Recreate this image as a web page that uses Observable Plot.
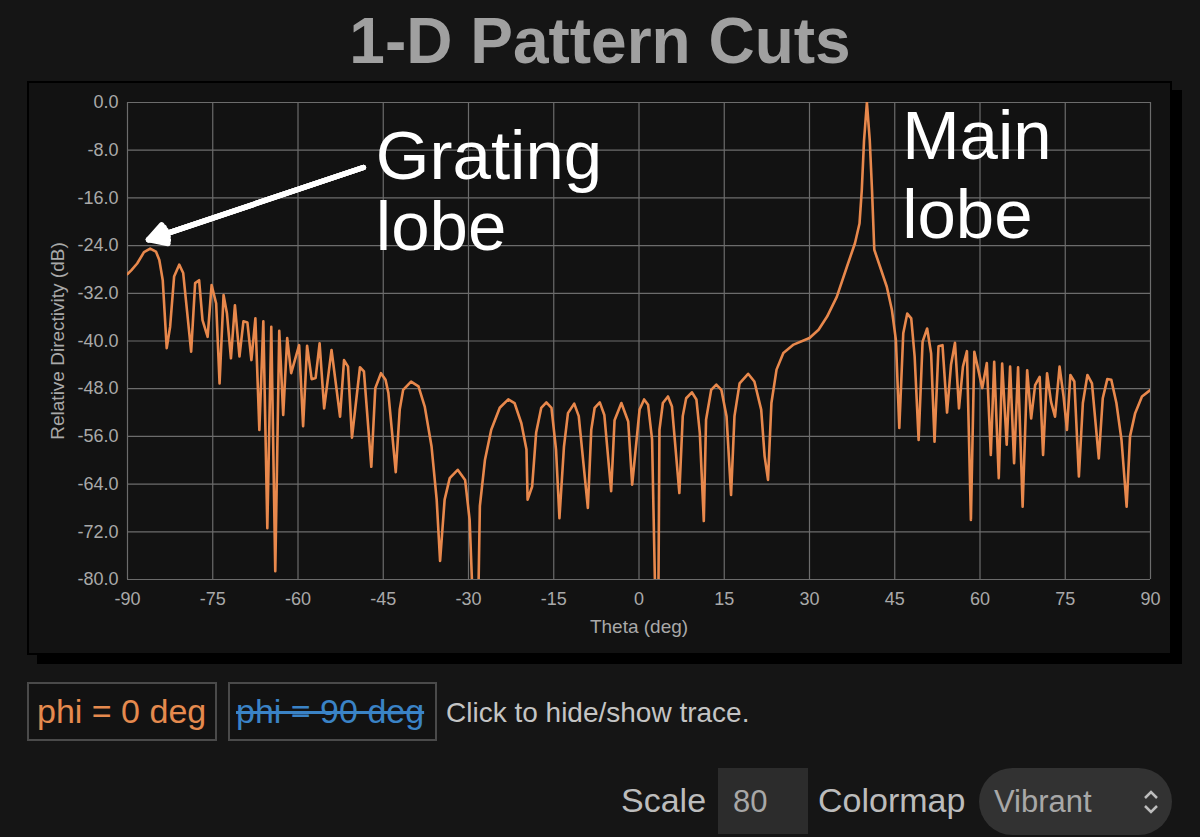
<!DOCTYPE html>
<html>
<head>
<meta charset="utf-8">
<script src="https://cdn.jsdelivr.net/npm/d3@7"></script>
<script src="https://cdn.jsdelivr.net/npm/@observablehq/plot@0.6"></script>
<style>
  html, body { margin: 0; padding: 0; background: #151515; width: 1200px; height: 837px; overflow: hidden;
    font-family: "Liberation Sans", Arial, Helvetica, sans-serif; }
  .abs { position: absolute; line-height: 1; white-space: nowrap; }
  #title { left: 0; width: 1200px; top: 9px; text-align: center; font-weight: bold; font-size: 64px; color: #a0a0a0; }
  #panel { position: absolute; left: 27px; top: 81px; width: 1141px; height: 570px; background: #121212;
    border: 2px solid #000; box-shadow: 10px 9px 0 #000; }
  #chart { position: absolute; left: 27px; top: 81px; }
  .legbox { position: absolute; top: 682px; height: 55px; border: 2px solid #4a4a4a; background: #121212; }
  .ctl { color: #bcbcbc; font-size: 34px; }
  #scaleBox { position: absolute; left: 718px; top: 768px; width: 90px; height: 66px; background: #2c2c2c; }
  #cmapBox { position: absolute; left: 979px; top: 768px; width: 193px; height: 67px; background: #323232; border-radius: 34px; }
</style>
</head>
<body>
<div id="title" class="abs">1-D Pattern Cuts</div>
<div id="panel"></div>
<div id="chart"></div>

<div class="legbox" style="left:27px;width:186px;"></div>
<div class="abs" style="left:37px;top:694px;font-size:34px;color:#e58a4e;">phi = 0 deg</div>
<div class="legbox" style="left:228px;width:205px;"></div>
<div class="abs" style="left:236px;top:694px;font-size:34px;color:#3a83c6;text-decoration:line-through;">phi = 90 deg</div>
<div class="abs" style="left:446px;top:699px;font-size:28px;color:#c4c4c4;">Click to hide/show trace.</div>

<div class="abs ctl" style="left:621px;top:783px;">Scale</div>
<div id="scaleBox"></div>
<div class="abs" style="left:733px;top:786px;font-size:31px;color:#a8a8a8;">80</div>
<div class="abs ctl" style="left:818px;top:783px;">Colormap</div>
<div id="cmapBox"></div>
<div class="abs" style="left:994px;top:786px;font-size:31px;color:#a8a8a8;">Vibrant</div>
<svg class="abs" style="left:1142px;top:787px;" width="18" height="30" viewBox="0 0 18 30">
  <polyline points="3,11 9,5 15,11" fill="none" stroke="#bdbdbd" stroke-width="2.5"/>
  <polyline points="3,19 9,25 15,19" fill="none" stroke="#bdbdbd" stroke-width="2.5"/>
</svg>

<script>
// ---- data (phi = 0 deg cut) ----
const thetaDeg = [
  -90.0, -89.3, -88.3, -87.1, -86.0, -85.0, -84.4, -83.8, -83.1, -82.5,
  -81.8, -80.9, -80.2, -78.8, -78.1, -77.4, -76.8, -75.9, -75.2, -74.4,
  -73.8, -73.1, -72.5, -71.8, -71.1, -70.3, -69.6, -68.9, -68.2, -67.5,
  -66.8, -66.1, -65.4, -64.7, -64.0, -63.3, -62.6, -61.9, -61.2, -59.8,
  -59.1, -58.4, -57.6, -56.9, -56.2, -55.4, -54.1, -52.6, -51.9, -51.2,
  -50.5, -49.1, -48.4, -47.1, -46.4, -45.4, -44.6, -44.1, -42.8, -42.1,
  -41.5, -40.1, -38.8, -37.7, -36.5, -35.6, -35.0, -34.2, -33.3, -31.9,
  -30.6, -29.8, -29.2, -28.3, -28.0, -27.1, -26.0, -24.5, -23.0, -21.9,
  -20.7, -19.8, -19.6, -18.8, -18.1, -17.2, -16.3, -15.4, -14.6, -14.0,
  -13.2, -12.5, -11.4, -10.6, -9.0, -8.4, -7.8, -6.9, -6.1, -4.9,
  -4.3, -3.1, -1.9, -1.2, 0.1, 0.9, 1.6, 2.3, 2.9, 3.4,
  3.6, 4.2, 5.1, 5.8, 7.1, 7.7, 8.3, 9.3, 10.1, 10.7,
  11.4, 11.8, 12.7, 13.6, 14.5, 15.4, 16.2, 16.8, 17.7, 19.2,
  20.3, 21.5, 22.1, 22.7, 23.3, 24.2, 25.4, 27.2, 30.0, 31.6,
  33.1, 34.8, 36.6, 38.0, 38.8, 39.2, 39.6, 40.1, 40.6, 41.0,
  41.4, 42.4, 43.6, 44.5, 45.2, 45.8, 46.5, 47.2, 47.9, 48.5,
  49.2, 49.9, 50.7, 51.4, 52.0, 52.7, 53.4, 54.2, 54.9, 55.6,
  56.3, 57.0, 57.7, 58.4, 59.0, 59.7, 60.4, 61.2, 61.9, 62.5,
  63.3, 63.9, 64.7, 65.3, 66.0, 66.7, 67.5, 68.3, 69.0, 69.7,
  70.5, 71.1, 71.8, 72.5, 73.2, 74.0, 74.7, 75.3, 75.9, 76.6,
  77.4, 78.1, 78.9, 79.7, 80.9, 81.6, 82.4, 83.1, 84.0, 84.9,
  85.8, 86.4, 87.3, 88.5, 90.0
];
const directivityDb = [
  -28.8, -28.1, -27.0, -25.1, -24.5, -25.0, -26.4, -29.8, -41.2, -37.6,
  -29.2, -27.2, -28.6, -41.8, -30.3, -29.8, -36.5, -39.3, -30.6, -33.7,
  -47.1, -32.3, -35.4, -42.9, -34.0, -42.6, -36.7, -36.9, -43.2, -36.2,
  -54.9, -36.7, -71.4, -37.6, -78.6, -38.3, -52.4, -39.5, -45.4, -40.7,
  -54.3, -40.8, -46.4, -46.2, -40.4, -51.3, -41.5, -52.7, -43.2, -44.3,
  -56.2, -44.4, -45.1, -61.1, -47.9, -45.4, -46.5, -48.7, -62.0, -51.5,
  -48.2, -46.8, -47.6, -51.0, -57.7, -66.6, -76.9, -66.6, -63.0, -61.6,
  -63.3, -70.0, -85.0, -85.0, -67.7, -59.9, -54.9, -51.2, -49.8, -50.4,
  -53.8, -58.2, -66.6, -64.4, -55.4, -51.2, -50.3, -51.2, -58.2, -69.7,
  -57.7, -52.1, -50.5, -52.6, -68.0, -54.9, -51.2, -50.3, -52.4, -65.2,
  -53.3, -50.4, -53.5, -64.1, -51.5, -49.8, -50.7, -56.5, -85.0, -85.0,
  -54.9, -50.4, -49.3, -51.0, -65.5, -52.6, -49.6, -48.6, -49.8, -55.4,
  -70.2, -53.2, -48.2, -47.3, -48.2, -52.6, -65.8, -52.6, -47.1, -45.5,
  -46.8, -51.5, -59.3, -63.3, -50.4, -44.8, -42.0, -40.6, -39.5, -38.1,
  -35.9, -32.6, -27.5, -23.6, -20.3, -14.7, -6.3, 0.0, -6.3, -14.7,
  -24.7, -27.5, -30.9, -34.8, -39.8, -54.6, -38.7, -35.4, -36.2, -42.6,
  -56.6, -40.1, -37.9, -42.1, -56.9, -40.9, -40.7, -52.0, -44.0, -40.3,
  -51.3, -44.3, -41.7, -70.0, -41.8, -44.8, -47.9, -43.7, -59.1, -43.5,
  -63.0, -43.8, -57.4, -44.3, -60.5, -44.4, -67.8, -44.9, -53.0, -47.4,
  -46.0, -59.1, -45.4, -50.2, -52.7, -44.3, -49.3, -54.9, -45.7, -46.8,
  -62.7, -50.4, -45.7, -47.1, -59.7, -49.6, -46.4, -46.5, -50.4, -56.6,
  -67.8, -56.0, -52.1, -49.3, -48.2
];
const xTicks = [-90, -75, -60, -45, -30, -15, 0, 15, 30, 45, 60, 75, 90];
const yTicks = [0, -8, -16, -24, -32, -40, -48, -56, -64, -72, -80];
const xLabel = "Theta (deg)";
const yLabel = "Relative Directivity (dB)";

// annotations
const annText  = ["Grating", "lobe", "Main", "lobe"];
const annTheta = [-46.3, -46.3, 46.3, 46.3];
const annDb    = [-12.75, -24.8, -9.4, -22.8];
const arrowFrom = {theta: -48.5, db: -10.9};
const arrowTo   = {theta: -86.3, db: -23.0};

const curve = thetaDeg.map((t, i) => ({theta: t, db: directivityDb[i]}));
const anns = annText.map((s, i) => ({text: s, theta: annTheta[i], db: annDb[i]}));
const arrows = [{x1: arrowFrom.theta, y1: arrowFrom.db, x2: arrowTo.theta, y2: arrowTo.db}];

const gridColor = "#6c6c6c";
const axisColor = "#a9a9a9";
const arrowOpts = {x1: "x1", y1: "y1", x2: "x2", y2: "y2", stroke: "white", strokeWidth: 5.5, headLength: 5.4, strokeLinejoin: "miter"};

const chart = Plot.plot({
  width: 1145,
  height: 574,
  marginLeft: 100,
  marginRight: 22,
  marginTop: 21,
  marginBottom: 76,
  style: {background: "transparent", color: axisColor, fontSize: "18px",
          fontFamily: "'Liberation Sans', Arial, Helvetica, sans-serif"},
  x: {domain: [-90, 90]},
  y: {domain: [-80, 0]},
  marks: [
    Plot.gridX(xTicks, {stroke: gridColor, strokeOpacity: 1, strokeWidth: 1.2}),
    Plot.gridY(yTicks, {stroke: gridColor, strokeOpacity: 1, strokeWidth: 1.2}),
    Plot.axisX(xTicks, {tickSize: 0, tickPadding: 13, tickFormat: d => String(d), label: null, fill: axisColor, fontSize: 18}),
    Plot.axisY(yTicks, {tickSize: 0, tickPadding: 9, tickFormat: d => d.toFixed(1), label: null, fill: axisColor, fontSize: 18}),
    Plot.text([xLabel], {text: d => d, frameAnchor: "bottom", dy: 53, lineAnchor: "bottom", fontSize: 19, fill: axisColor}),
    Plot.text([yLabel], {text: d => d, frameAnchor: "left", dx: -70, rotate: -90, textAnchor: "middle", lineAnchor: "middle", fontSize: 19, fill: axisColor}),
    Plot.line(curve, {x: "theta", y: "db", stroke: "#e8884c", strokeWidth: 2.6, strokeLinejoin: "round", clip: true}),
    Plot.arrow(arrows, {...arrowOpts, headAngle: 60}),
    Plot.arrow(arrows, {...arrowOpts, headAngle: 40}),
    Plot.arrow(arrows, {...arrowOpts, headAngle: 20}),
    Plot.text(anns, {x: "theta", y: "db", text: "text", fill: "white", fontSize: 69,
      textAnchor: "start", lineAnchor: "bottom"})
  ]
});
document.getElementById("chart").appendChild(chart);
</script>
</body>
</html>
